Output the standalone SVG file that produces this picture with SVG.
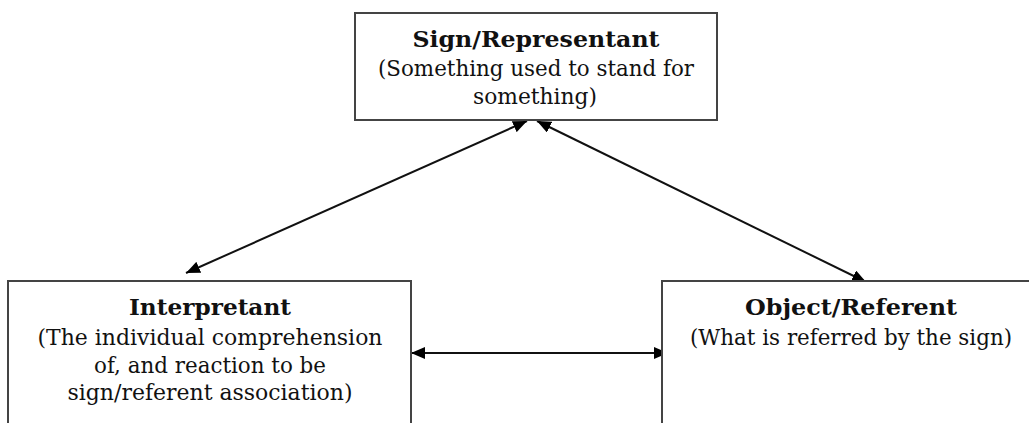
<svg xmlns="http://www.w3.org/2000/svg" width="1029" height="423" viewBox="0 0 1029 423">
<defs>
<marker id="ah" viewBox="0 0 14 12" refX="14" refY="6" markerWidth="14" markerHeight="12" markerUnits="userSpaceOnUse" orient="auto-start-reverse">
<path d="M0,0 L14,6 L0,12 z" fill="#000"/>
</marker>
<style>
.box{fill:#fff;stroke:#444;stroke-width:2}
.t{font-family:"DejaVu Serif","Liberation Serif",serif;font-size:21.5px;fill:#111;text-anchor:middle}
.b{font-weight:bold;font-size:23px}
.c{stroke:#111;stroke-width:2;fill:none;marker-start:url(#ah);marker-end:url(#ah)}
</style>
</defs>
<rect width="1029" height="423" fill="#fff"/>
<g id="connectors">
<line class="c" x1="527" y1="121" x2="186" y2="273"/>
<line class="c" x1="537" y1="121" x2="866" y2="282"/>
<line class="c" x1="411" y1="353" x2="668" y2="353"/>
</g>
<g id="sign">
<rect class="box" x="355" y="13" width="362" height="107"/>
<text class="t b" x="536" y="47" textLength="247" lengthAdjust="spacingAndGlyphs">Sign/Representant</text>
<text class="t" x="536" y="76" textLength="316" lengthAdjust="spacingAndGlyphs">(Something used to stand for</text>
<text class="t" x="535" y="104" textLength="124" lengthAdjust="spacingAndGlyphs">something)</text>
</g>
<g id="interpretant">
<rect class="box" x="8" y="281" width="403" height="160"/>
<text class="t b" x="210" y="315" textLength="162" lengthAdjust="spacingAndGlyphs">Interpretant</text>
<text class="t" x="210" y="345" textLength="345" lengthAdjust="spacingAndGlyphs">(The individual comprehension</text>
<text class="t" x="210" y="373" textLength="232" lengthAdjust="spacingAndGlyphs">of, and reaction to be</text>
<text class="t" x="210" y="400" textLength="285" lengthAdjust="spacingAndGlyphs">sign/referent association)</text>
</g>
<g id="object">
<rect class="box" x="662" y="281" width="400" height="160"/>
<text class="t b" x="851" y="315" textLength="212" lengthAdjust="spacingAndGlyphs">Object/Referent</text>
<text class="t" x="851" y="345" textLength="322" lengthAdjust="spacingAndGlyphs">(What is referred by the sign)</text>
</g>
</svg>
